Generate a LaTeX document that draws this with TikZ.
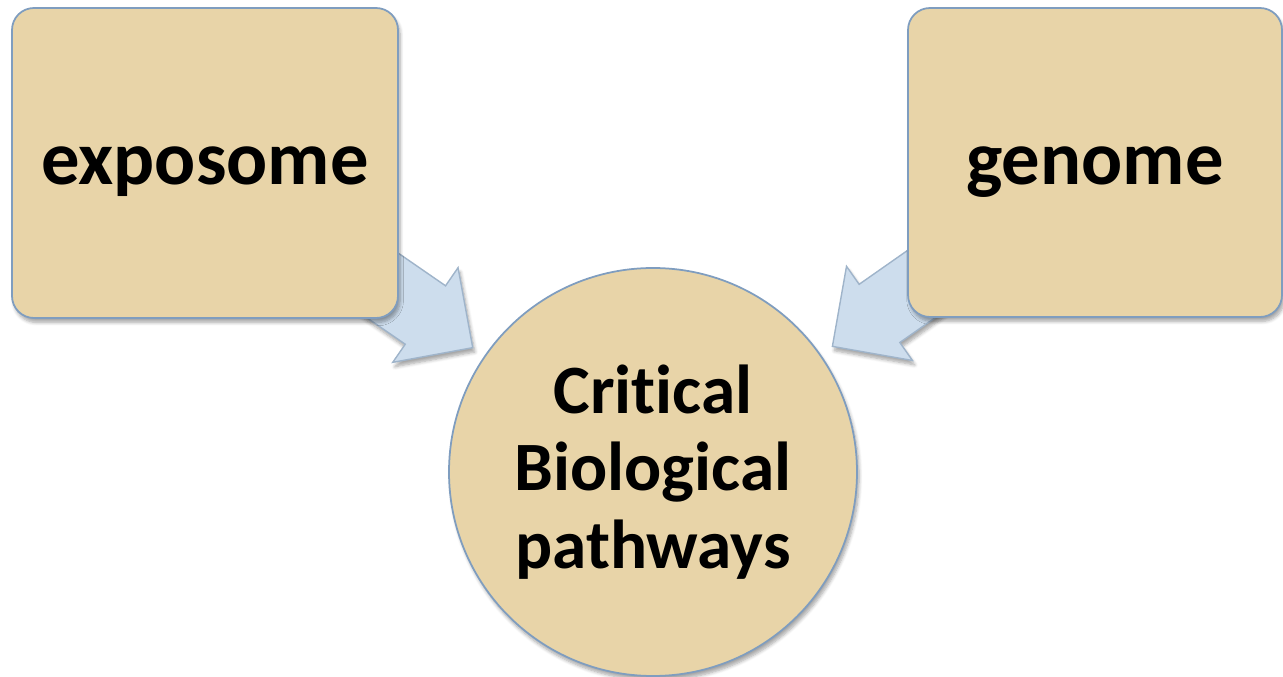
\documentclass[tikz,border=0pt]{standalone}
\usepackage{fontspec}
\setmainfont{Carlito}[Ligatures={NoCommon}]
\usetikzlibrary{calc,shadows,shadows.blur,backgrounds}

\definecolor{tanfill}{HTML}{E8D4A8}
\definecolor{tanline}{HTML}{7F9DBF}
\definecolor{arrowfill}{HTML}{CDDDED}
\definecolor{arrowline}{HTML}{9FB4CA}

\tikzset{
  factorbox/.style={draw=tanline, line width=1pt, fill=tanfill, rounded corners=0.44cm,
    blur shadow={shadow blur steps=6, shadow xshift=1.2pt, shadow yshift=-2.5pt, shadow opacity=35},
    font=\fontsize{43.6}{50}\selectfont\bfseries, text=black, text height=25pt, text depth=0pt},
  pathcircle/.style={draw=tanline, line width=1pt, fill=tanfill, circle, inner sep=0pt,
    blur shadow={shadow blur steps=6, shadow xshift=1.2pt, shadow yshift=-2.5pt, shadow opacity=35},
    font=\fontsize{39.4}{44}\selectfont\bfseries, align=center, text=black},
  blockarrow/.style={draw=arrowline, line width=0.8pt, fill=arrowfill, line join=miter,
    blur shadow={shadow blur steps=6, shadow xshift=1.2pt, shadow yshift=-2.5pt, shadow opacity=35}}
}

\begin{document}
\begin{tikzpicture}
  \useasboundingbox (0,0) rectangle (25.66,13.54);

  % the two inputs and the pathways they act on
  \node[factorbox, minimum width=7.72cm, minimum height=6.2cm] (expo) at (4.10,10.28) {exposome};
  \node[factorbox, minimum width=7.48cm, minimum height=6.18cm] (geno) at (21.9,10.29) {genome};
  \node[pathcircle, minimum size=8.16cm] (crit) at (13.06,4.10) {Critical\\Biological\\pathways};

  % block arrows, drawn behind the boxes
  \begin{pgfonlayer}{background}
    \foreach \src in {expo,geno} {
      \coordinate (tip) at ($(crit.center)!4.38cm!(\src.center)$);
      \coordinate (hb) at ($(crit.center)!5.53cm!(\src.center)$);
      \draw[blockarrow]
        ($(\src.center)!0.71cm!90:(crit.center)$) --
        ($(hb)!0.71cm!-90:(\src.center)$) --
        ($(hb)!1.15cm!-90:(\src.center)$) --
        (tip) --
        ($(hb)!1.15cm!90:(\src.center)$) --
        ($(hb)!0.71cm!90:(\src.center)$) --
        ($(\src.center)!0.71cm!-90:(crit.center)$) -- cycle;
    }
  \end{pgfonlayer}
\end{tikzpicture}
\end{document}
